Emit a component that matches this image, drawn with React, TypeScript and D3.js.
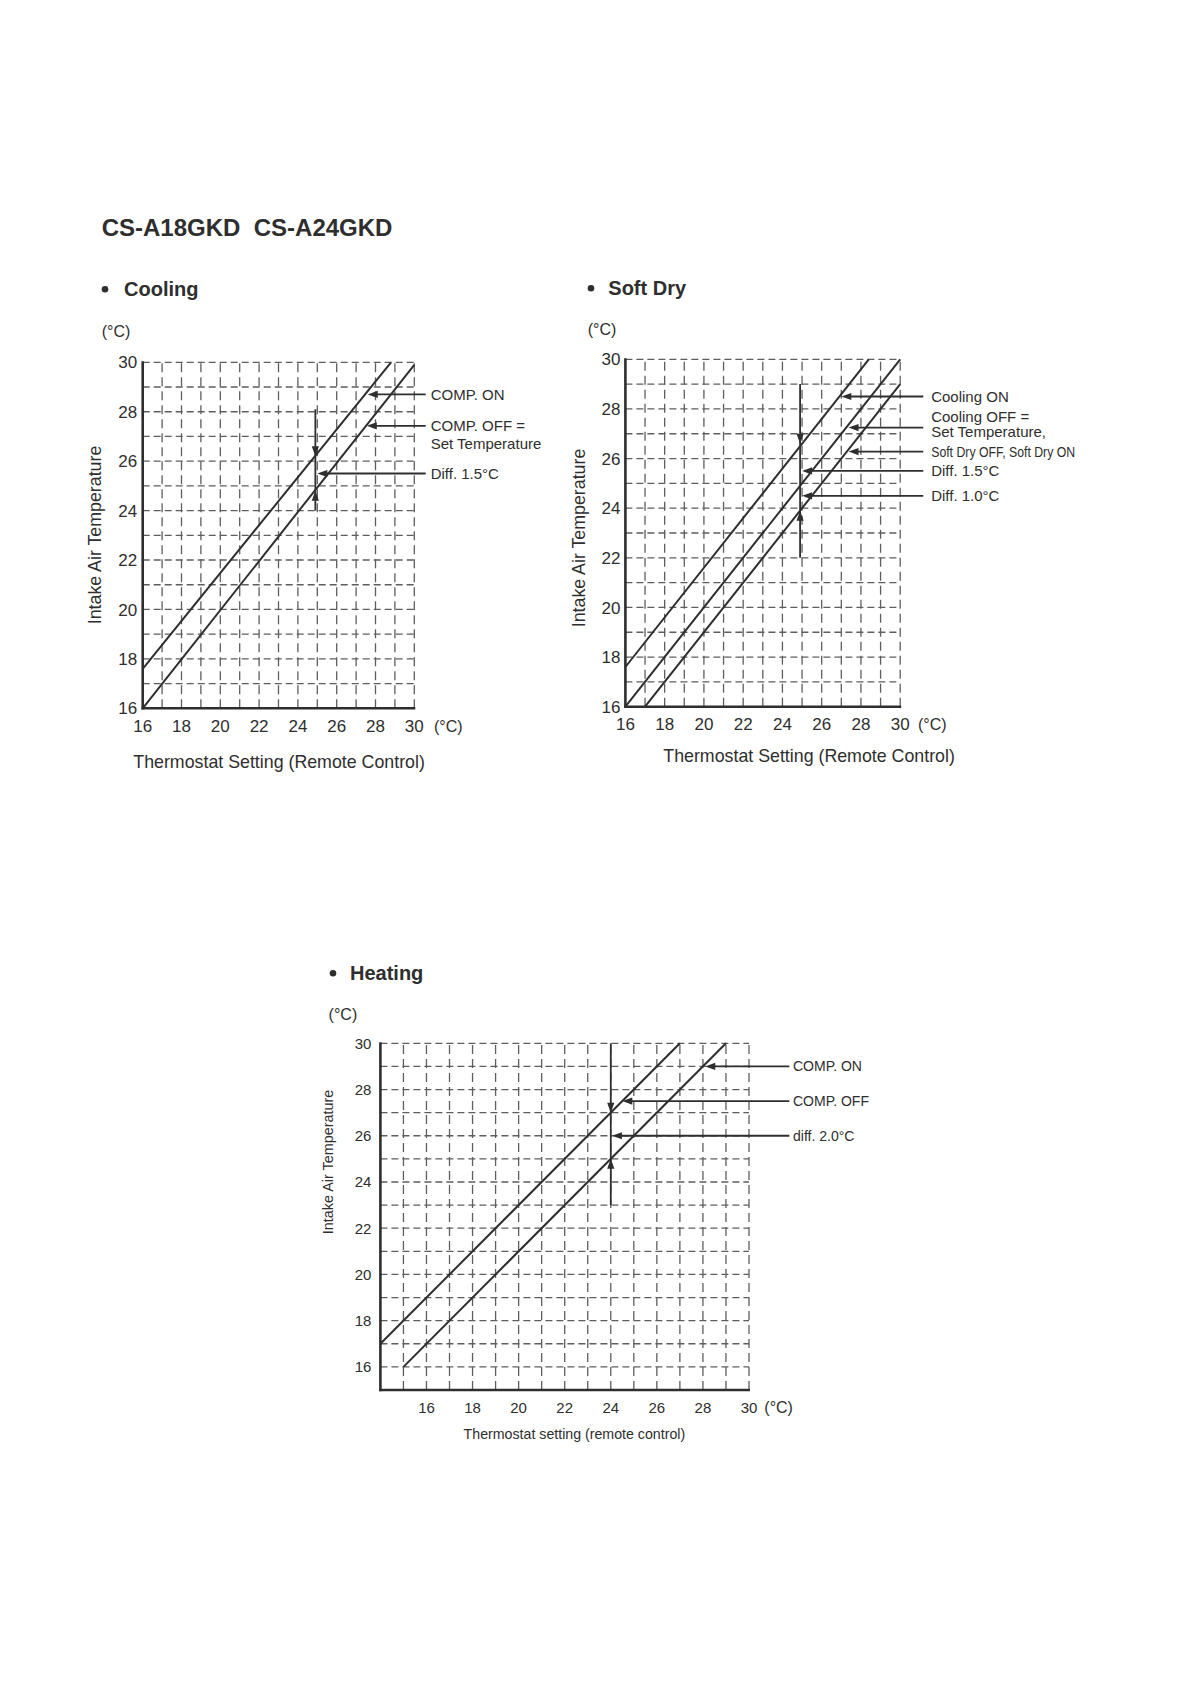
import React from 'react';
import * as d3 from 'd3';

type Pt = [number, number];

const FONT = '"Liberation Sans", Arial, Helvetica, sans-serif';
const INK = '#2e2e2e';
const GRID = '#5e5e5e';

// ---- Cooling ----
const coolXTicks = [16, 18, 20, 22, 24, 26, 28, 30];
const coolYTicks = [16, 18, 20, 22, 24, 26, 28, 30];
const coolOnLine: Pt[] = [[16, 17.6], [28.8, 30]];
const coolOffLine: Pt[] = [[16, 16], [30, 29.9]];
// x, top, bottom, down-arrow tip, up-arrow tip
const coolDiff = [24.9, 28.1, 24.0, 26.2, 24.8];
const coolNoteText = [['COMP. ON'], ['COMP. OFF =', 'Set Temperature'], ['Diff. 1.5°C']];
const coolNoteY = [28.7, 27.43, 25.5];
const coolNoteTip = [27.6, 27.55, 25.0];

// ---- Soft Dry ----
const dryXTicks = [16, 18, 20, 22, 24, 26, 28, 30];
const dryYTicks = [16, 18, 20, 22, 24, 26, 28, 30];
const dryCoolOnLine: Pt[] = [[16, 17.6], [28.4, 30]];
const dryCoolOffLine: Pt[] = [[16, 16], [30, 30]];
const dryOnLine: Pt[] = [[17, 16], [30, 29]];
const dryDiff = [24.9, 29.0, 22.0, 26.6, 23.9];
const dryNoteText = [
  ['Cooling ON'],
  ['Cooling OFF =', 'Set Temperature,'],
  ['Soft Dry OFF, Soft Dry ON'],
  ['Diff. 1.5°C'],
  ['Diff. 1.0°C'],
];
const dryNoteY = [28.5, 27.25, 26.28, 25.5, 24.5];
const dryNoteTip = [27.0, 27.37, 27.37, 25.0, 25.0];

// ---- Heating ----
const heatXTicks = [16, 18, 20, 22, 24, 26, 28, 30];
const heatYTicks = [16, 18, 20, 22, 24, 26, 28, 30];
const heatOffLine: Pt[] = [[14, 17], [27, 30]];
const heatOnLine: Pt[] = [[15, 16], [29, 30]];
const heatDiff = [24, 30, 23, 27, 25];
const heatNoteText = [['COMP. ON'], ['COMP. OFF'], ['diff. 2.0°C']];
const heatNoteY = [29, 27.5, 26];
const heatNoteTip = [28.1, 24.5, 24.05];

interface Layout {
  x0: number; x1: number; y0: number; y1: number;
  xDom: [number, number]; yDom: [number, number];
  xGridFrom: number; yGridFrom: number;
  tickFont: number; noteFont: number; titleFont: number;
  yTickGap: number; xTickDy: number;
  unitAfter: number;
  noteLineEnd: number; noteX: number; noteLineOffsets: number[][];
  xTitle: string; xTitleX: number; xTitleY: number;
  yTitleX: number; yTitleY: number; yTitleFont: number;
  unitTopX: number; unitTopY: number;
  heading: string; bulletX: number; headX: number; headY: number;
  narrowNote?: number;
}

interface PanelProps {
  L: Layout;
  xTicks: number[]; yTicks: number[];
  lines: Pt[][];
  diff: number[];
  noteText: string[][]; noteY: number[]; noteTip: number[];
}

const Panel: React.FC<PanelProps> = ({ L, xTicks, yTicks, lines, diff, noteText, noteY, noteTip }) => {
  const x = d3.scaleLinear().domain(L.xDom).range([L.x0, L.x1]);
  const y = d3.scaleLinear().domain(L.yDom).range([L.y1, L.y0]);
  const line = d3.line<Pt>().x((d) => x(d[0])).y((d) => y(d[1]));
  const xGrid = d3.range(L.xGridFrom, L.xDom[1] + 0.5, 1);
  const yGrid = d3.range(L.yGridFrom, L.yDom[1] + 0.5, 1);
  const ah = 10;
  const aw = 3.6;
  const [dx, dTop, dBot, dDown, dUp] = diff;

  return (
    <g fontFamily={FONT} fill={INK}>
      <circle cx={L.bulletX} cy={L.headY - 6.8} r={3.3} fill={INK} />
      <text x={L.headX} y={L.headY} fontSize={20} fontWeight="bold">{L.heading}</text>
      <text x={L.unitTopX} y={L.unitTopY} fontSize={16}>(°C)</text>

      {/* grid */}
      {xGrid.map((v) => (
        <line key={'vx' + v} x1={x(v)} x2={x(v)} y1={y(L.yDom[0])} y2={y(L.yDom[1])}
          stroke={GRID} strokeWidth={1.3} strokeDasharray="9,5" />
      ))}
      {yGrid.map((v) => (
        <line key={'hy' + v} x1={x(L.xDom[0])} x2={x(L.xDom[1])} y1={y(v)} y2={y(v)}
          stroke={GRID} strokeWidth={1.3} strokeDasharray="7,4" />
      ))}
      {/* axes */}
      <line x1={L.x0} x2={L.x0} y1={L.y0 - 1} y2={L.y1 + 1.2} stroke={INK} strokeWidth={2.6} />
      <line x1={L.x0 - 1.2} x2={L.x1 + 1} y1={L.y1} y2={L.y1} stroke={INK} strokeWidth={2.6} />

      {/* tick labels */}
      {yTicks.map((v) => (
        <text key={'yt' + v} x={L.x0 - L.yTickGap} y={y(v)} dy="0.36em" fontSize={L.tickFont} textAnchor="end">{v}</text>
      ))}
      {xTicks.map((v) => (
        <text key={'xt' + v} x={x(v)} y={L.y1 + L.xTickDy} fontSize={L.tickFont} textAnchor="middle">{v}</text>
      ))}
      <text x={L.unitAfter} y={L.y1 + L.xTickDy} fontSize={16}>(°C)</text>

      <text x={L.xTitleX} y={L.xTitleY} fontSize={L.titleFont}>{L.xTitle}</text>
      <text transform={`translate(${L.yTitleX},${L.yTitleY}) rotate(-90)`} textAnchor="middle" dy="0.35em" fontSize={L.yTitleFont}>Intake Air Temperature</text>

      {/* characteristic lines */}
      {lines.map((ln, i) => (
        <path key={'ln' + i} d={line(ln) || ''} fill="none" stroke={INK} strokeWidth={2} />
      ))}

      {/* differential marker */}
      <line x1={x(dx)} x2={x(dx)} y1={y(dTop)} y2={y(dBot)} stroke={INK} strokeWidth={1.8} />
      <path d={`M${x(dx)},${y(dDown)}L${x(dx) - aw},${y(dDown) - ah}L${x(dx) + aw},${y(dDown) - ah}Z`} fill={INK} />
      <path d={`M${x(dx)},${y(dUp)}L${x(dx) - aw},${y(dUp) + ah}L${x(dx) + aw},${y(dUp) + ah}Z`} fill={INK} />

      {/* notes */}
      {noteText.map((lab, i) => {
        const ty = y(noteY[i]);
        const tx = x(noteTip[i]);
        return (
          <g key={'n' + i}>
            <line x1={tx + ah - 1} x2={L.noteLineEnd} y1={ty} y2={ty} stroke={INK} strokeWidth={1.8} />
            <path d={`M${tx},${ty}L${tx + ah},${ty - aw}L${tx + ah},${ty + aw}Z`} fill={INK} />
            {lab.map((s, j) => {
              const narrow = L.narrowNote !== undefined && s.startsWith('Soft Dry');
              return (
                <text key={j} x={L.noteX} y={ty + L.noteLineOffsets[i][j]} dy="0.36em"
                  fontSize={narrow ? 14 : L.noteFont}
                  textLength={narrow ? L.narrowNote : undefined}
                  lengthAdjust={narrow ? 'spacingAndGlyphs' : undefined}>{s}</text>
              );
            })}
          </g>
        );
      })}
    </g>
  );
};

const coolLayout: Layout = {
  x0: 142.7, x1: 414.3, y0: 362.3, y1: 708.3,
  xDom: [16, 30], yDom: [16, 30], xGridFrom: 17, yGridFrom: 17,
  tickFont: 17, noteFont: 15, titleFont: 17.8,
  yTickGap: 5.5, xTickDy: 23.4, unitAfter: 434,
  noteLineEnd: 425.7, noteX: 430.7, noteLineOffsets: [[0], [0, 17.3], [0]],
  xTitle: 'Thermostat Setting (Remote Control)', xTitleX: 133.3, xTitleY: 768.3,
  yTitleX: 95, yTitleY: 535, yTitleFont: 17.8,
  unitTopX: 101.7, unitTopY: 336.5,
  heading: 'Cooling', bulletX: 105, headX: 124, headY: 296,
};

const dryLayout: Layout = {
  x0: 625.4, x1: 900.2, y0: 359.3, y1: 706.7,
  xDom: [16, 30], yDom: [16, 30], xGridFrom: 17, yGridFrom: 17,
  tickFont: 17, noteFont: 15, titleFont: 17.8,
  yTickGap: 5, xTickDy: 23.3, unitAfter: 918,
  noteLineEnd: 923.3, noteX: 931.2, noteLineOffsets: [[0], [-11, 4], [0], [0], [0]],
  xTitle: 'Thermostat Setting (Remote Control)', xTitleX: 663.3, xTitleY: 761.7,
  yTitleX: 579, yTitleY: 538, yTitleFont: 17.8,
  unitTopX: 587.7, unitTopY: 335,
  heading: 'Soft Dry', bulletX: 591, headX: 608.3, headY: 295,
  narrowNote: 144,
};

const heatLayout: Layout = {
  x0: 380.4, x1: 749, y0: 1043.3, y1: 1390,
  xDom: [14, 30], yDom: [15, 30], xGridFrom: 15, yGridFrom: 16,
  tickFont: 15, noteFont: 14, titleFont: 14.2,
  yTickGap: 9, xTickDy: 22.7, unitAfter: 764.3,
  noteLineEnd: 789.3, noteX: 793, noteLineOffsets: [[0], [0], [0]],
  xTitle: 'Thermostat setting (remote control)', xTitleX: 463.6, xTitleY: 1439.3,
  yTitleX: 328, yTitleY: 1162, yTitleFont: 14.4,
  unitTopX: 328.6, unitTopY: 1020,
  heading: 'Heating', bulletX: 333, headX: 350, headY: 980,
};

export default function App() {
  return (
    <svg width={1190} height={1684} style={{ position: 'absolute', left: 0, top: 0, background: '#fff' }}>
      <rect width={1190} height={1684} fill="#fff" />
      <text x={101.7} y={235.7} fontFamily={FONT} fontSize={24} fontWeight="bold" fill={INK}
        style={{ whiteSpace: 'pre' }}>{'CS-A18GKD  CS-A24GKD'}</text>
      <Panel L={coolLayout} xTicks={coolXTicks} yTicks={coolYTicks}
        lines={[coolOnLine, coolOffLine]} diff={coolDiff}
        noteText={coolNoteText} noteY={coolNoteY} noteTip={coolNoteTip} />
      <Panel L={dryLayout} xTicks={dryXTicks} yTicks={dryYTicks}
        lines={[dryCoolOnLine, dryCoolOffLine, dryOnLine]} diff={dryDiff}
        noteText={dryNoteText} noteY={dryNoteY} noteTip={dryNoteTip} />
      <Panel L={heatLayout} xTicks={heatXTicks} yTicks={heatYTicks}
        lines={[heatOffLine, heatOnLine]} diff={heatDiff}
        noteText={heatNoteText} noteY={heatNoteY} noteTip={heatNoteTip} />
    </svg>
  );
}
